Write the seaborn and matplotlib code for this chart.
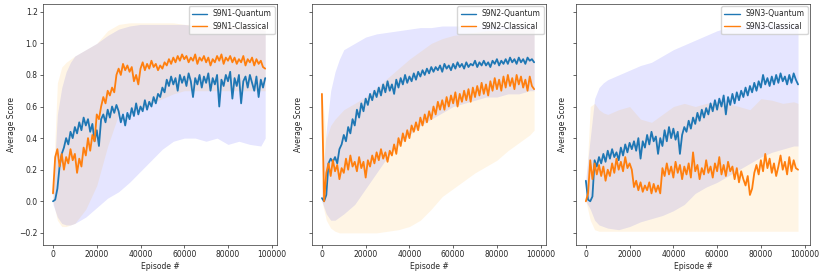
import matplotlib
matplotlib.use('Agg')
import matplotlib.pyplot as plt
import pandas as pd
import seaborn as sns

# episode grid for the mean curves and a coarser one for the spread bands
episodes = list(range(0, 98000, 1000))
band_episodes = [0, 2000, 4000, 6000, 8000, 10000, 15000, 20000, 25000, 30000, 35000, 40000,
                 45000, 50000, 55000, 60000, 65000, 70000, 75000, 80000, 85000, 90000, 95000, 97000]

# S9N1
q1 = [0.00, 0.01, 0.08, 0.22, 0.30, 0.34, 0.40, 0.36, 0.44, 0.40, 0.47, 0.43, 0.50, 0.45, 0.53, 0.48,
      0.52, 0.44, 0.49, 0.38, 0.45, 0.35, 0.52, 0.55, 0.50, 0.58, 0.53, 0.60, 0.56, 0.61, 0.57, 0.50,
      0.55, 0.48, 0.56, 0.52, 0.59, 0.54, 0.62, 0.55, 0.60, 0.57, 0.64, 0.58, 0.63, 0.60, 0.66, 0.62,
      0.68, 0.66, 0.72, 0.69, 0.77, 0.73, 0.79, 0.74, 0.78, 0.70, 0.80, 0.75, 0.79, 0.73, 0.81, 0.76,
      0.66, 0.78, 0.74, 0.80, 0.72, 0.79, 0.75, 0.81, 0.70, 0.78, 0.74, 0.80, 0.60, 0.77, 0.73, 0.80,
      0.76, 0.82, 0.65, 0.78, 0.73, 0.80, 0.62, 0.76, 0.79, 0.72, 0.80, 0.75, 0.70, 0.79, 0.66, 0.77,
      0.72, 0.78]
c1 = [0.05, 0.28, 0.33, 0.22, 0.30, 0.20, 0.28, 0.24, 0.33, 0.26, 0.30, 0.18, 0.27, 0.22, 0.34, 0.29,
      0.40, 0.32, 0.42, 0.38, 0.55, 0.52, 0.60, 0.66, 0.62, 0.70, 0.67, 0.72, 0.69, 0.80, 0.84, 0.80,
      0.87, 0.83, 0.86, 0.82, 0.85, 0.76, 0.80, 0.74, 0.84, 0.88, 0.83, 0.87, 0.84, 0.89, 0.85, 0.87,
      0.83, 0.86, 0.84, 0.88, 0.86, 0.90, 0.87, 0.91, 0.88, 0.92, 0.89, 0.93, 0.90, 0.92, 0.88, 0.91,
      0.89, 0.93, 0.87, 0.91, 0.89, 0.92, 0.88, 0.91, 0.86, 0.90, 0.88, 0.92, 0.89, 0.93, 0.87, 0.91,
      0.89, 0.92, 0.88, 0.91, 0.87, 0.90, 0.88, 0.92, 0.86, 0.90, 0.88, 0.91, 0.86, 0.90, 0.87, 0.89,
      0.85, 0.84]
q1_lo = [-0.02, -0.10, -0.14, -0.15, -0.15, -0.14, -0.10, -0.04, 0.02, 0.06, 0.12, 0.19, 0.26, 0.33,
         0.38, 0.40, 0.40, 0.38, 0.40, 0.36, 0.38, 0.36, 0.35, 0.40]
q1_hi = [0.05, 0.55, 0.72, 0.82, 0.88, 0.92, 0.96, 1.00, 1.05, 1.09, 1.11, 1.12, 1.12, 1.12, 1.12,
         1.12, 1.11, 1.11, 1.10, 1.10, 1.10, 1.10, 1.09, 1.08]
c1_lo = [0.00, -0.12, -0.16, -0.16, -0.15, -0.14, -0.05, 0.10, 0.35, 0.55, 0.58, 0.58, 0.62, 0.65,
         0.68, 0.70, 0.70, 0.70, 0.70, 0.70, 0.70, 0.70, 0.70, 0.70]
c1_hi = [0.10, 0.75, 0.85, 0.88, 0.90, 0.92, 0.96, 1.00, 1.08, 1.12, 1.13, 1.13, 1.13, 1.13, 1.13,
         1.12, 1.12, 1.12, 1.11, 1.11, 1.11, 1.10, 1.10, 1.10]

# S9N2
q2 = [0.02, 0.00, 0.04, 0.24, 0.27, 0.25, 0.28, 0.24, 0.33, 0.36, 0.42, 0.38, 0.47, 0.43, 0.52, 0.48,
      0.58, 0.53, 0.62, 0.57, 0.65, 0.61, 0.68, 0.64, 0.70, 0.66, 0.72, 0.67, 0.74, 0.69, 0.76, 0.70,
      0.74, 0.68, 0.77, 0.72, 0.78, 0.74, 0.80, 0.75, 0.79, 0.76, 0.81, 0.77, 0.82, 0.79, 0.83, 0.80,
      0.84, 0.81, 0.85, 0.82, 0.85, 0.83, 0.86, 0.82, 0.87, 0.84, 0.86, 0.83, 0.87, 0.84, 0.88, 0.85,
      0.87, 0.84, 0.88, 0.85, 0.87, 0.86, 0.89, 0.85, 0.88, 0.86, 0.89, 0.86, 0.88, 0.85, 0.89, 0.87,
      0.90, 0.86, 0.89, 0.87, 0.90, 0.87, 0.91, 0.88, 0.90, 0.87, 0.91, 0.88, 0.90, 0.87, 0.91, 0.89,
      0.90, 0.88]
c2 = [0.68, 0.00, 0.18, 0.24, 0.16, 0.26, 0.19, 0.23, 0.14, 0.21, 0.18, 0.27, 0.20, 0.29, 0.22, 0.25,
      0.19, 0.28, 0.21, 0.25, 0.15, 0.26, 0.22, 0.29, 0.24, 0.31, 0.26, 0.33, 0.27, 0.31, 0.25, 0.32,
      0.29, 0.36, 0.30, 0.40, 0.35, 0.43, 0.38, 0.45, 0.40, 0.48, 0.44, 0.50, 0.45, 0.53, 0.48, 0.55,
      0.50, 0.57, 0.52, 0.60, 0.55, 0.63, 0.58, 0.64, 0.58, 0.66, 0.60, 0.67, 0.62, 0.69, 0.60, 0.68,
      0.63, 0.70, 0.64, 0.71, 0.63, 0.72, 0.66, 0.73, 0.67, 0.75, 0.68, 0.74, 0.67, 0.76, 0.70, 0.78,
      0.71, 0.77, 0.70, 0.79, 0.72, 0.80, 0.73, 0.78, 0.71, 0.80, 0.74, 0.79, 0.72, 0.77, 0.70, 0.79,
      0.73, 0.71]
q2_lo = [0.00, -0.08, -0.12, -0.12, -0.10, -0.08, -0.02, 0.08, 0.18, 0.28, 0.36, 0.42, 0.48, 0.52,
         0.56, 0.60, 0.62, 0.64, 0.66, 0.66, 0.68, 0.68, 0.70, 0.70]
q2_hi = [0.10, 0.45, 0.70, 0.82, 0.90, 0.96, 1.00, 1.04, 1.06, 1.07, 1.08, 1.09, 1.10, 1.10, 1.11,
         1.11, 1.11, 1.11, 1.11, 1.11, 1.11, 1.11, 1.11, 1.11]
c2_lo = [0.00, -0.12, -0.17, -0.19, -0.20, -0.20, -0.20, -0.20, -0.20, -0.19, -0.18, -0.16, -0.12,
         -0.05, 0.03, 0.08, 0.13, 0.18, 0.22, 0.26, 0.32, 0.37, 0.42, 0.45]
c2_hi = [0.70, 0.40, 0.48, 0.52, 0.55, 0.58, 0.62, 0.66, 0.72, 0.78, 0.84, 0.90, 0.95, 1.00, 1.03,
         1.05, 1.06, 1.07, 1.08, 1.08, 1.09, 1.09, 1.10, 1.10]

# S9N3
q3 = [0.13, 0.01, 0.00, 0.03, 0.26, 0.22, 0.28, 0.24, 0.30, 0.25, 0.32, 0.27, 0.33, 0.28, 0.31, 0.26,
      0.34, 0.29, 0.36, 0.31, 0.37, 0.33, 0.38, 0.32, 0.40, 0.27, 0.38, 0.34, 0.42, 0.36, 0.44, 0.38,
      0.41, 0.30, 0.40, 0.35, 0.45, 0.38, 0.47, 0.40, 0.46, 0.39, 0.44, 0.30, 0.42, 0.47, 0.44, 0.51,
      0.46, 0.53, 0.49, 0.56, 0.51, 0.58, 0.53, 0.59, 0.55, 0.62, 0.57, 0.64, 0.58, 0.65, 0.60, 0.67,
      0.55, 0.66, 0.61, 0.68, 0.62, 0.69, 0.64, 0.70, 0.66, 0.72, 0.67, 0.73, 0.69, 0.75, 0.70, 0.76,
      0.72, 0.80, 0.74, 0.78, 0.73, 0.79, 0.74, 0.80, 0.75, 0.81, 0.76, 0.79, 0.74, 0.80, 0.75, 0.81,
      0.77, 0.74]
c3 = [0.00, 0.05, 0.26, 0.14, 0.24, 0.17, 0.23, 0.16, 0.22, 0.13, 0.20, 0.16, 0.24, 0.18, 0.27, 0.20,
      0.25, 0.19, 0.28, 0.21, 0.24, 0.20, 0.09, 0.13, 0.07, 0.12, 0.06, 0.10, 0.07, 0.12, 0.05, 0.11,
      0.06, 0.10, 0.05, 0.21, 0.16, 0.24, 0.17, 0.22, 0.15, 0.25, 0.18, 0.23, 0.14, 0.22, 0.17, 0.24,
      0.15, 0.31, 0.19, 0.23, 0.14, 0.21, 0.17, 0.26, 0.18, 0.22, 0.15, 0.24, 0.19, 0.28, 0.17, 0.23,
      0.16, 0.25, 0.19, 0.22, 0.14, 0.21, 0.12, 0.19, 0.14, 0.10, 0.16, 0.04, 0.08, 0.18, 0.23, 0.17,
      0.26, 0.19, 0.30, 0.21, 0.27, 0.18, 0.24, 0.16, 0.22, 0.29, 0.20, 0.25, 0.17, 0.28, 0.19, 0.26,
      0.21, 0.20]
q3_lo = [0.00, -0.05, -0.12, -0.15, -0.16, -0.17, -0.18, -0.16, -0.13, -0.11, -0.09, -0.06, -0.02,
         0.05, 0.09, 0.12, 0.16, 0.20, 0.24, 0.28, 0.31, 0.33, 0.35, 0.35]
q3_hi = [0.15, 0.40, 0.65, 0.72, 0.75, 0.77, 0.80, 0.83, 0.86, 0.88, 0.92, 0.96, 0.99, 1.02, 1.05,
         1.08, 1.10, 1.11, 1.12, 1.12, 1.12, 1.12, 1.12, 1.12]
c3_lo = [0.00, -0.12, -0.18, -0.19, -0.19, -0.19, -0.19, -0.19, -0.19, -0.19, -0.19, -0.19, -0.19,
         -0.19, -0.19, -0.19, -0.19, -0.19, -0.19, -0.19, -0.19, -0.19, -0.19, -0.19]
c3_hi = [0.05, 0.60, 0.62, 0.58, 0.56, 0.55, 0.58, 0.60, 0.52, 0.50, 0.55, 0.60, 0.62, 0.60, 0.62,
         0.63, 0.62, 0.60, 0.58, 0.65, 0.64, 0.62, 0.63, 0.62]

panels = [
    ('S9N1', q1, c1, q1_lo, q1_hi, c1_lo, c1_hi),
    ('S9N2', q2, c2, q2_lo, q2_hi, c2_lo, c2_hi),
    ('S9N3', q3, c3, q3_lo, q3_hi, c3_lo, c3_hi),
]

sns.set_style('ticks')
plt.rcParams['font.family'] = ['DejaVu Sans']
plt.rcParams['font.size'] = 5.5
plt.rcParams['axes.linewidth'] = 0.5
plt.rcParams['axes.edgecolor'] = '#333333'
plt.rcParams['axes.labelpad'] = 2.2
plt.rcParams['xtick.major.size'] = 2
plt.rcParams['ytick.major.size'] = 2
plt.rcParams['xtick.major.width'] = 0.5
plt.rcParams['ytick.major.width'] = 0.5
plt.rcParams['xtick.major.pad'] = 2
plt.rcParams['ytick.major.pad'] = 2

fig = plt.figure(figsize=(8.3, 2.77), dpi=100)
lefts = [0.052, 0.376, 0.694]
for i, (name, q, c, qlo, qhi, clo, chi) in enumerate(panels):
    ax = fig.add_axes([lefts[i], 0.116, 0.282, 0.870])
    ax.fill_between(band_episodes, qlo, qhi, color='blue', alpha=0.1, linewidth=0)
    ax.fill_between(band_episodes, clo, chi, color='orange', alpha=0.1, linewidth=0)
    df = pd.DataFrame({'Episode': episodes, 'Quantum': q, 'Classical': c})
    sns.lineplot(data=df, x='Episode', y='Quantum', ax=ax, color='#1f77b4', lw=1.3,
                 label=name + '-Quantum')
    sns.lineplot(data=df, x='Episode', y='Classical', ax=ax, color='#ff7f0e', lw=1.3,
                 label=name + '-Classical')
    ax.set_xlim(-4500, 102500)
    ax.set_ylim(-0.276, 1.25)
    ax.set_xticks([0, 20000, 40000, 60000, 80000, 100000])
    ax.set_yticks([-0.2, 0.0, 0.2, 0.4, 0.6, 0.8, 1.0, 1.2])
    ax.set_xlabel('Episode #', fontsize=5.5)
    ax.set_ylabel('Average Score', fontsize=5.5)
    ax.tick_params(labelsize=5.5)
    if i > 0:
        ax.set_yticklabels([])
    leg = ax.legend(loc='upper right', fontsize=5.5, handlelength=2.0, borderaxespad=0.3)
    for line in leg.get_lines():
        line.set_linewidth(1.0)

fig.savefig('out.png', dpi=100)
